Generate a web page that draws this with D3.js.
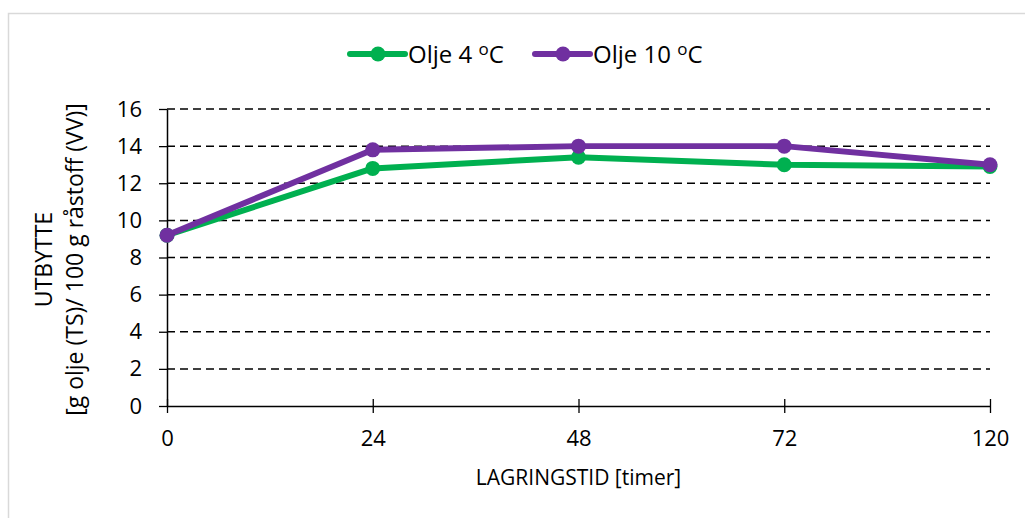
<!DOCTYPE html>
<html>
<head>
<meta charset="utf-8">
<script src="https://cdn.jsdelivr.net/npm/d3@7"></script>
<style>
  body { margin: 0; background: #fff; }
  text { font-family: "Open Sans", "Noto Sans", sans-serif; fill: #000; }
</style>
</head>
<body>
<div id="chart"></div>
<script>
// data
const hours = ["0", "24", "48", "72", "120"];
const olje4 = [9.2, 12.8, 13.4, 13.0, 12.9];
const olje10 = [9.2, 13.8, 14.0, 14.0, 13.0];
const yTicks = [0, 2, 4, 6, 8, 10, 12, 14, 16];
const seriesNames = [["Olje 4 ", "C"], ["Olje 10 ", "C"]];
const seriesColors = ["#00b050", "#7030a0"];

const width = 1025, height = 518;
const margin = { left: 167, right: 35, top: 109, bottom: 112 };

const svg = d3.select("#chart").append("svg")
    .attr("width", width)
    .attr("height", height);

// outer frame
svg.append("rect")
    .attr("x", 8.5).attr("y", 13.5)
    .attr("width", width + 10).attr("height", height + 10)
    .attr("fill", "none")
    .attr("stroke", "#d9d9d9")
    .attr("stroke-width", 1.5);

const x = d3.scalePoint()
    .domain(hours)
    .range([margin.left, width - margin.right]);

const y = d3.scaleLinear()
    .domain([0, 16])
    .range([height - margin.bottom, margin.top]);

// dashed gridlines
svg.append("g")
    .selectAll("line")
    .data(yTicks.filter(d => d > 0))
    .enter()
    .append("line")
    .attr("x1", margin.left)
    .attr("x2", width - margin.right)
    .attr("y1", d => y(d))
    .attr("y2", d => y(d))
    .attr("stroke", "#000")
    .attr("stroke-width", 1.5)
    .attr("stroke-dasharray", "8,5");

// y axis
const yAxis = svg.append("g")
    .attr("transform", `translate(${margin.left},0)`)
    .call(d3.axisLeft(y).tickValues(yTicks).tickSize(8).tickPadding(17).tickSizeOuter(0));
yAxis.select(".domain").attr("stroke", "#000").attr("stroke-width", 1.5);
yAxis.selectAll(".tick line").attr("stroke", "#000").attr("stroke-width", 1.3);
yAxis.selectAll(".tick text").attr("font-size", 22)
    .attr("font-family", "'Open Sans', sans-serif");

// x axis
const xAxis = svg.append("g")
    .attr("transform", `translate(0,${y(0)})`)
    .call(d3.axisBottom(x).tickSize(7).tickPadding(17).tickSizeOuter(0));
xAxis.select(".domain").attr("stroke", "#000").attr("stroke-width", 1.5);
xAxis.selectAll(".tick line").attr("stroke", "#000").attr("stroke-width", 1.3)
    .attr("y1", -7);
xAxis.selectAll(".tick text").attr("font-size", 22)
    .attr("font-family", "'Open Sans', sans-serif");

// axis titles
svg.append("text")
    .attr("x", (margin.left + width - margin.right) / 2)
    .attr("y", 485)
    .attr("text-anchor", "middle")
    .attr("font-size", 21)
    .text("LAGRINGSTID [timer]");

const yTitle = svg.append("text")
    .attr("transform", `translate(52,${(y(0) + y(16)) / 2 + 2}) rotate(-90)`)
    .attr("text-anchor", "middle")
    .attr("font-size", 23);
yTitle.append("tspan").attr("x", 0).attr("dy", 0).text("UTBYTTE");
yTitle.append("tspan").attr("x", 0).attr("dy", 31).text("[g olje (TS)/ 100 g råstoff (VV)]");

// lines and markers
const line = d3.line()
    .x((d, i) => x(hours[i]))
    .y(d => y(d));

[olje4, olje10].forEach((vals, k) => {
    const g = svg.append("g");
    g.append("path")
        .datum(vals)
        .attr("d", line)
        .attr("fill", "none")
        .attr("stroke", seriesColors[k])
        .attr("stroke-width", 6)
        .attr("stroke-linejoin", "round");
    g.selectAll("circle")
        .data(vals)
        .enter()
        .append("circle")
        .attr("cx", (d, i) => x(hours[i]))
        .attr("cy", d => y(d))
        .attr("r", 7.5)
        .attr("fill", seriesColors[k]);
});

// legend
const legendX = [350, 535];
seriesNames.forEach((name, k) => {
    const g = svg.append("g").attr("transform", `translate(${legendX[k]},54)`);
    g.append("line")
        .attr("x1", 0).attr("x2", 55)
        .attr("stroke", seriesColors[k])
        .attr("stroke-width", 6)
        .attr("stroke-linecap", "round");
    g.append("circle").attr("cx", 28).attr("r", 7.5).attr("fill", seriesColors[k]);
    const t = g.append("text")
        .attr("x", 58).attr("y", 9)
        .attr("font-size", 24);
    t.append("tspan").text(name[0]);
    t.append("tspan").attr("font-size", 17).attr("dy", -8).text("o");
    t.append("tspan").attr("dy", 8).text(name[1]);
});
</script>
</body>
</html>
